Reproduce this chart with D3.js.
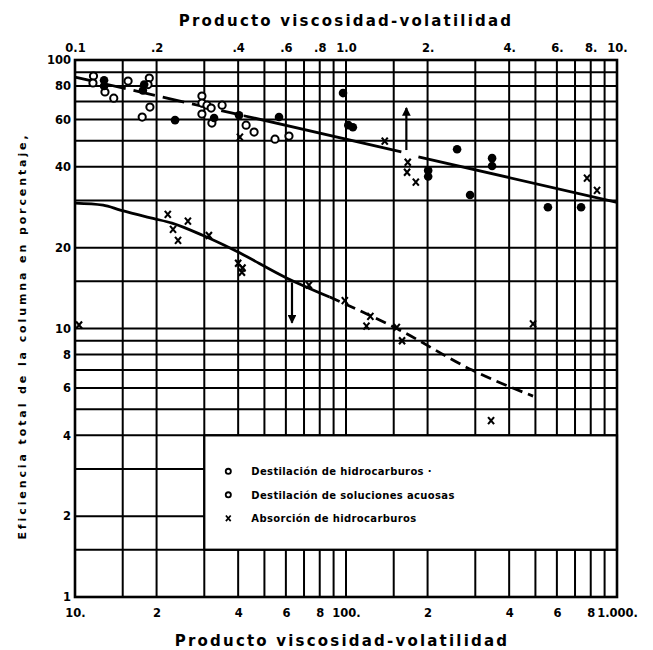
<!DOCTYPE html>
<html>
<head>
<meta charset="utf-8">
<script src="https://cdn.jsdelivr.net/npm/d3@7/dist/d3.min.js"></script>
<style>
  body { margin: 0; background: #fff; }
  text { font-family: "DejaVu Sans", sans-serif; font-weight: bold; fill: #000; }
</style>
</head>
<body>
<div id="chart"></div>
<script>
// Data
//= ================================
// top axis: distillation, bottom axis: absorption (same grid, x100)
var topTicks = [0.1, 0.2, 0.4, 0.6, 0.8, 1, 2, 4, 6, 8, 10];
var topTickLabels = ["0.1", ".2", ".4", ".6", ".8", "1.0", "2.", "4.", "6.", "8.", "10."];
var bottomTicks = [10, 20, 40, 60, 80, 100, 200, 400, 600, 800, 1000];
var bottomTickLabels = ["10.", "2", "4", "6", "8", "100.", "2", "4", "6", "8", "1.000."];
var yTicks = [1, 2, 4, 6, 8, 10, 20, 40, 60, 80, 100];
var yTickLabels = ["1", "2", "4", "6", "8", "10", "20", "40", "60", "80", "100"];
var gridSteps = [1, 1.5, 2, 3, 4, 5, 6, 7, 8, 9];

var legendLabels = ["Destilación de hidrocarburos ·", "Destilación de soluciones acuosas", "Absorción de hidrocarburos"];

// Destilación de hidrocarburos (filled) [top x, efficiency]
var distHydro = [
  [0.128, 84], [0.128, 80], [0.178, 77], [0.18, 81], [0.234, 59.7], [0.326, 60.8],
  [0.403, 62.3], [0.566, 61.3], [0.975, 75.3], [1.02, 57.2], [1.06, 56.2],
  [2.01, 38.8], [2.01, 36.8], [2.57, 46.5], [3.46, 43.1], [3.46, 40.3],
  [2.87, 31.4], [5.56, 28.3], [7.37, 28.3]
];
// Destilación de soluciones acuosas (open)
var distAqueous = [
  [0.117, 87.1], [0.1165, 82.1], [0.157, 83.5], [0.129, 76], [0.139, 72.1],
  [0.188, 85.7], [0.186, 81], [0.189, 66.8], [0.177, 61.3], [0.294, 73.4],
  [0.294, 69.1], [0.307, 67.9], [0.318, 66.2], [0.349, 67.9], [0.294, 62.9],
  [0.32, 58.2], [0.428, 57.2], [0.458, 53.9], [0.547, 50.7], [0.616, 52.1]
];
// Absorción de hidrocarburos [bottom x, efficiency]
var absorption = [
  [40.6, 51.6], [139, 49.9], [169, 41.6], [168, 38.2], [181, 35.1], [775, 36.3], [844, 32.7],
  [22, 26.6], [26.1, 25.1], [23, 23.4], [24, 21.3], [31.2, 22.2], [40, 17.5], [41.5, 16.8],
  [41.3, 16.2], [10.35, 10.3], [73, 14.5], [99, 12.7], [123, 11.1], [119, 10.2],
  [154, 10.1], [161, 9.0], [490, 10.4], [343, 4.54]
];

// curves
var distLineDashed = [[0.1, 86.4], [0.42, 62]];
var distLineSolid1 = [[0.42, 62], [1.6, 45.5]];
var distLineSolid2 = [[1.85, 43.6], [10, 29.5]];
var absLineSolid = [[10, 29.3], [12.7, 28.8], [14.7, 27.6], [19.4, 25.7], [22.8, 24.7],
  [29.7, 22.2], [38.3, 19.7], [60.6, 15.4], [87, 13.1]];
var absLineDashed = [[87, 13.1], [154, 10.0], [292, 7.0], [490, 5.6]];

// arrows [bottom x, from, to]
var arrows = [[167, 46.2, 66.3], [63.2, 14.85, 10.5]];

// Step 1: Set up the chart
//= ================================
var svgWidth = 653;
var svgHeight = 650;
var plotLeft = 75, plotRight = 617, plotTop = 60, plotBottom = 597;

var svg = d3.select("#chart")
  .append("svg")
  .attr("width", svgWidth)
  .attr("height", svgHeight);

// Step 2: Scales
//= ================================
var xTop = d3.scaleLog().domain([0.1, 10]).range([plotLeft, plotRight]);
var xBottom = d3.scaleLog().domain([10, 1000]).range([plotLeft, plotRight]);
var y = d3.scaleLog().domain([1, 100]).range([plotBottom, plotTop]);

var gridX = [];
[0.1, 1].forEach(function(dec) { gridSteps.forEach(function(s) { gridX.push(dec * s); }); });
gridX.push(10);
var gridY = [];
[1, 10].forEach(function(dec) { gridSteps.forEach(function(s) { gridY.push(dec * s); }); });
gridY.push(100);

// Step 3: Grid
//= ================================
var grid = svg.append("g").attr("stroke", "#000").attr("stroke-width", 2);

grid.selectAll(".vgrid")
  .data(gridX)
  .enter()
  .append("line")
  .attr("x1", d => xTop(d))
  .attr("x2", d => xTop(d))
  .attr("y1", plotTop)
  .attr("y2", plotBottom);

grid.selectAll(".hgrid")
  .data(gridY)
  .enter()
  .append("line")
  .attr("x1", plotLeft)
  .attr("x2", plotRight)
  .attr("y1", d => y(d))
  .attr("y2", d => y(d));

// legend box covers the grid
var legX0 = xTop(0.3), legX1 = xTop(10), legY0 = y(4), legY1 = y(1.5);
svg.append("rect")
  .attr("x", legX0)
  .attr("y", legY0)
  .attr("width", legX1 - legX0)
  .attr("height", legY1 - legY0)
  .attr("fill", "#fff")
  .attr("stroke", "#000")
  .attr("stroke-width", 2.2);

// outer border
svg.append("rect")
  .attr("x", plotLeft)
  .attr("y", plotTop)
  .attr("width", plotRight - plotLeft)
  .attr("height", plotBottom - plotTop)
  .attr("fill", "none")
  .attr("stroke", "#000")
  .attr("stroke-width", 2.6);

// Step 4: Axes
//= ================================
var topAxis = d3.axisTop(xTop)
  .tickValues(topTicks)
  .tickFormat((d, i) => topTickLabels[i])
  .tickSize(0)
  .tickPadding(0);
var bottomAxis = d3.axisBottom(xBottom)
  .tickValues(bottomTicks)
  .tickFormat((d, i) => bottomTickLabels[i])
  .tickSize(0)
  .tickPadding(0);
var leftAxis = d3.axisLeft(y)
  .tickValues(yTicks)
  .tickFormat((d, i) => yTickLabels[i])
  .tickSize(0)
  .tickPadding(4);

function styleAxis(g) {
  g.select(".domain").remove();
  g.attr("font-family", null).attr("font-size", null);
  g.selectAll("text").attr("font-size", "11.5px").attr("fill", "#000");
}

svg.append("g").attr("transform", "translate(0, 52)").call(topAxis).call(styleAxis);
svg.append("g").attr("transform", "translate(0, 609)").call(bottomAxis).call(styleAxis);
svg.append("g").attr("transform", `translate(${plotLeft}, 0)`).call(leftAxis).call(styleAxis);

// Step 5: Axis titles
//= ================================
svg.append("text")
  .attr("x", 346)
  .attr("y", 26)
  .attr("text-anchor", "middle")
  .attr("font-size", "15px")
  .attr("letter-spacing", "2.2px")
  .text("Producto viscosidad-volatilidad");

svg.append("text")
  .attr("x", 342)
  .attr("y", 646)
  .attr("text-anchor", "middle")
  .attr("font-size", "15px")
  .attr("letter-spacing", "2.2px")
  .text("Producto viscosidad-volatilidad");

svg.append("text")
  .attr("transform", "translate(26, 336) rotate(-90)")
  .attr("text-anchor", "middle")
  .attr("font-size", "11px")
  .attr("letter-spacing", "2.9px")
  .text("Eficiencia total de la columna en porcentaje,");

// Step 6: Curves
//= ================================
var lineTop = d3.line().x(d => xTop(d[0])).y(d => y(d[1]));
var lineBottom = d3.line().x(d => xBottom(d[0])).y(d => y(d[1])).curve(d3.curveMonotoneX);

var curves = svg.append("g").attr("fill", "none").attr("stroke", "#000").attr("stroke-width", 2.8);
curves.append("path").attr("d", lineTop(distLineDashed)).attr("stroke-dasharray", "22,8");
curves.append("path").attr("d", lineTop(distLineSolid1));
curves.append("path").attr("d", lineTop(distLineSolid2));
curves.append("path").attr("d", lineBottom(absLineSolid));
curves.append("path").attr("d", lineBottom(absLineDashed)).attr("stroke-dasharray", "11,6");

// arrows
svg.append("defs").append("marker")
  .attr("id", "head")
  .attr("viewBox", "0 0 10 10")
  .attr("refX", 9)
  .attr("refY", 5)
  .attr("markerWidth", 4)
  .attr("markerHeight", 4)
  .attr("orient", "auto")
  .append("path")
  .attr("d", "M0,0 L10,5 L0,10 Z")
  .attr("fill", "#000");

svg.selectAll(".arrow")
  .data(arrows)
  .enter()
  .append("line")
  .attr("x1", d => xBottom(d[0]))
  .attr("x2", d => xBottom(d[0]))
  .attr("y1", d => y(d[1]))
  .attr("y2", d => y(d[2]))
  .attr("stroke", "#000")
  .attr("stroke-width", 2.2)
  .attr("marker-end", "url(#head)");

// Step 7: Points
//= ================================
svg.selectAll(".aq")
  .data(distAqueous)
  .enter()
  .append("circle")
  .attr("cx", d => xTop(d[0]))
  .attr("cy", d => y(d[1]))
  .attr("r", 3.6)
  .attr("fill", "#fff")
  .attr("stroke", "#000")
  .attr("stroke-width", 2);

svg.selectAll(".hy")
  .data(distHydro)
  .enter()
  .append("circle")
  .attr("cx", d => xTop(d[0]))
  .attr("cy", d => y(d[1]))
  .attr("r", 4.3)
  .attr("fill", "#000");

var cross = "M-3,-3.5L3,3.5M3,-3.5L-3,3.5";
svg.selectAll(".ab")
  .data(absorption)
  .enter()
  .append("path")
  .attr("transform", d => `translate(${xBottom(d[0])}, ${y(d[1])})`)
  .attr("d", cross)
  .attr("stroke", "#000")
  .attr("stroke-width", 2.1)
  .attr("fill", "none");

// Step 8: Legend
//= ================================
var legend = svg.append("g").attr("transform", `translate(${legX0}, ${legY0})`);
var rows = legend.selectAll("g")
  .data(legendLabels)
  .enter()
  .append("g")
  .attr("transform", (d, i) => `translate(0, ${36 + i * 23.5})`);

rows.filter((d, i) => i < 2)
  .append("circle")
  .attr("cx", 24)
  .attr("cy", 0)
  .attr("r", 2.6)
  .attr("fill", "none")
  .attr("stroke", "#000")
  .attr("stroke-width", 1.8);

rows.filter((d, i) => i === 2)
  .append("path")
  .attr("transform", "translate(24, 0) scale(0.8)")
  .attr("d", cross)
  .attr("stroke", "#000")
  .attr("stroke-width", 2.2);

rows.append("text")
  .attr("x", 47)
  .attr("y", 4)
  .attr("font-size", "10px")
  .attr("letter-spacing", "0.35px")
  .text(d => d);
</script>
</body>
</html>
